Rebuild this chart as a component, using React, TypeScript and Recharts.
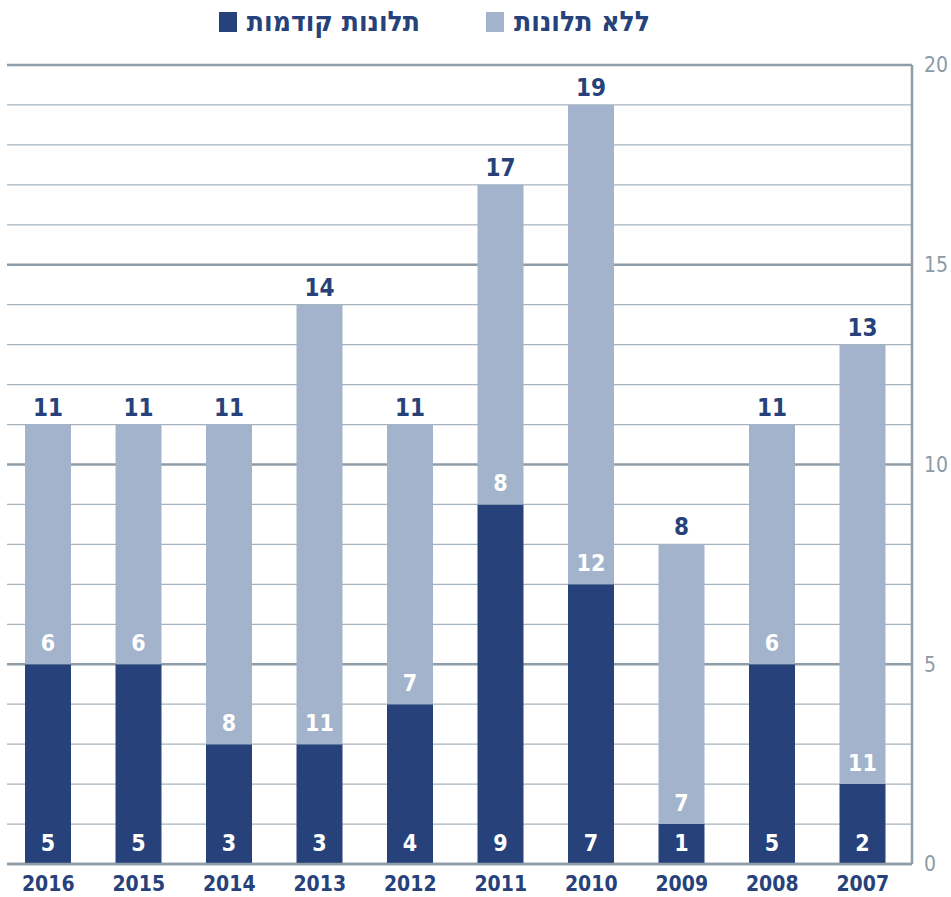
import React from 'react';
import { BarChart, Bar, XAxis, YAxis, CartesianGrid, LabelList } from 'recharts';

const years = ['2016', '2015', '2014', '2013', '2012', '2011', '2010', '2009', '2008', '2007'];
const previousComplaints = [5, 5, 3, 3, 4, 9, 7, 1, 5, 2];
const noComplaints = [6, 6, 8, 11, 7, 8, 12, 7, 6, 11];
const yTicks = [0, 1, 2, 3, 4, 5, 6, 7, 8, 9, 10, 11, 12, 13, 14, 15, 16, 17, 18, 19, 20];

const data = years.map((year, i) => ({
  year,
  prev: previousComplaints[i],
  none: noComplaints[i],
  total: previousComplaints[i] + noComplaints[i],
}));

const DARK = '#27427a';
const LIGHT = '#a2b3cb';
const GRID = '#a5b3bf';
const GRID_BOLD = '#8e9da8';
const FONT = "'DejaVu Sans Condensed', 'Liberation Sans Narrow', sans-serif";

const insideLabel = (p: any) => (
  <text
    x={Number(p.x) + Number(p.width) / 2}
    y={Number(p.y) + Number(p.height) - 21}
    textAnchor="middle"
    dominantBaseline="central"
    fill="#ffffff"
    fontFamily={FONT}
    fontWeight="bold"
    fontSize={23}
  >
    {p.value}
  </text>
);

const totalLabel = (p: any) => (
  <text
    x={Number(p.x) + Number(p.width) / 2}
    y={Number(p.y) - 17}
    textAnchor="middle"
    dominantBaseline="central"
    fill={DARK}
    fontFamily={FONT}
    fontWeight="bold"
    fontSize={24}
  >
    {p.value}
  </text>
);

const gridLine = (p: any) => (
  <line
    key={p.key}
    x1={p.x1}
    y1={p.y1}
    x2={p.x2}
    y2={p.y2}
    stroke={p.index % 5 === 0 ? GRID_BOLD : GRID}
    strokeWidth={p.index % 5 === 0 ? 2.5 : 1.2}
  />
);

const LegendItem = ({ color, label }: { color: string; label: string }) => (
  <div style={{ display: 'flex', alignItems: 'center', gap: 10 }}>
    <span>{label}</span>
    <span style={{ width: 18, height: 20, background: color, display: 'inline-block' }} />
  </div>
);

export default function App() {
  return (
    <div style={{ position: 'absolute', left: 0, top: 0, width: 951, height: 897, background: '#fff' }}>
      <div
        style={{
          position: 'absolute',
          top: 5,
          right: 301,
          display: 'flex',
          direction: 'rtl',
          gap: 66,
          fontFamily: FONT,
          fontWeight: 'bold',
          fontSize: 28,
          color: DARK,
        }}
      >
        <LegendItem color={LIGHT} label="ללא תלונות" />
        <LegendItem color={DARK} label="תלונות קודמות" />
      </div>
      <BarChart width={951} height={897} data={data} margin={{ top: 65, right: 0, left: 7, bottom: 0 }} barSize={46}>
        <CartesianGrid vertical={false} horizontal={gridLine} />
        <XAxis
          dataKey="year"
          height={33}
          padding={{ left: -4, right: 4 }}
          tickLine={false}
          axisLine={{ stroke: GRID_BOLD, strokeWidth: 2.5 }}
          tick={{ fill: DARK, fontSize: 21, fontWeight: 'bold', fontFamily: FONT }}
          tickMargin={6}
        />
        <YAxis
          orientation="right"
          width={39}
          domain={[0, 20]}
          ticks={yTicks}
          interval={0}
          tickFormatter={(v: number) => (v % 5 === 0 ? String(v) : '')}
          tickLine={false}
          axisLine={{ stroke: GRID_BOLD, strokeWidth: 2.5 }}
          tick={{ fill: '#8d9ba6', fontSize: 21, fontFamily: FONT }}
          tickMargin={6}
        />
        <Bar dataKey="prev" stackId="a" fill={DARK} isAnimationActive={false}>
          <LabelList dataKey="prev" content={insideLabel} />
        </Bar>
        <Bar dataKey="none" stackId="a" fill={LIGHT} isAnimationActive={false}>
          <LabelList dataKey="none" content={insideLabel} />
          <LabelList dataKey="total" content={totalLabel} />
        </Bar>
      </BarChart>
    </div>
  );
}
